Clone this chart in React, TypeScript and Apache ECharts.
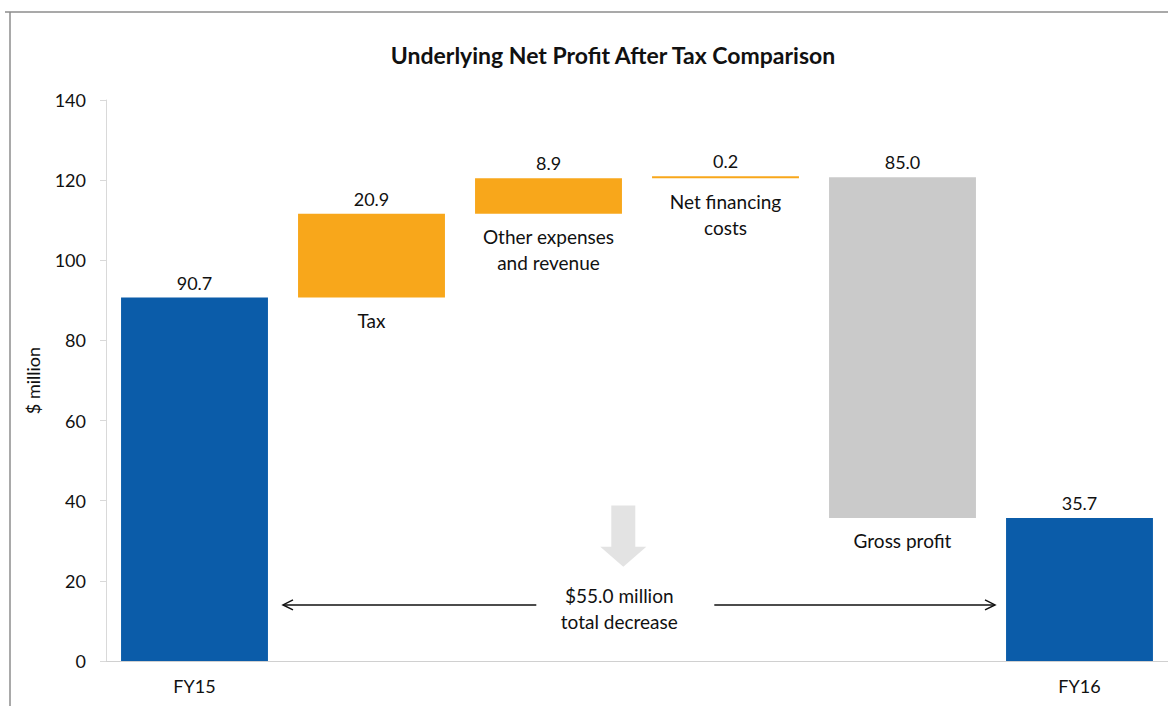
import React, { useEffect, useRef } from "react";
import * as echarts from "echarts";

const categories = ["FY15", "Tax", "Other expenses\nand revenue", "Net financing\ncosts", "Gross profit", "FY16"];
const values = [90.7, 20.9, 8.9, 0.2, 85.0, 35.7];
const steps = ["total", "up", "up", "up", "down", "total"];
const yTicks = [0, 20, 40, 60, 80, 100, 120, 140];
const totalDecreaseText = "$55.0 million\ntotal decrease";
const arrowLevel = 14;

const BLUE = "#0B5CA9";
const ORANGE = "#F8A71B";
const GREY = "#CACACA";
const FONT = "Lato, 'Open Sans', sans-serif";

function computeBases(): number[] {
  const bases: number[] = [];
  let running = 0;
  values.forEach((v, i) => {
    const s = steps[i];
    if (s === "total") {
      bases.push(0);
      running = v;
    } else if (s === "up") {
      bases.push(running);
      running += v;
    } else {
      running -= v;
      bases.push(running);
    }
  });
  return bases;
}

export default function App() {
  const ref = useRef<HTMLDivElement>(null);
  useEffect(() => {
    if (!ref.current) return;
    const chart = echarts.init(ref.current, null, { renderer: "svg" });
    const bases = computeBases();
    const colorFor = (i: number) =>
      steps[i] === "total" ? BLUE : steps[i] === "down" ? GREY : ORANGE;

    chart.setOption({
      animation: false,
      backgroundColor: "#ffffff",
      grid: { left: 106, right: 0, top: 100, bottom: 45, containLabel: false },
      xAxis: {
        type: "category",
        data: categories,
        axisLine: { show: true, lineStyle: { color: "#d0d0d0", width: 1 } },
        axisTick: { show: false },
        axisLabel: {
          color: "#111",
          fontFamily: FONT,
          fontSize: 18,
          margin: 16,
          formatter: (v: string, i: number) => (steps[i] === "total" ? v : ""),
        },
      },
      yAxis: {
        type: "value",
        min: yTicks[0],
        max: yTicks[yTicks.length - 1],
        interval: yTicks[1] - yTicks[0],
        name: "$ million",
        nameLocation: "middle",
        nameRotate: 90,
        nameGap: 64,
        nameTextStyle: { color: "#111", fontFamily: FONT, fontSize: 18 },
        splitLine: { show: false },
        axisLine: { show: true, lineStyle: { color: "#d9d9d9" } },
        axisTick: { show: true, length: 6, lineStyle: { color: "#d9d9d9" } },
        axisLabel: { color: "#111", fontFamily: FONT, fontSize: 18, margin: 20 },
      },
      series: [
        {
          type: "bar",
          stack: "wf",
          barCategoryGap: "17%",
          data: bases,
          itemStyle: { color: "transparent" },
          emphasis: { disabled: true },
          label: {
            show: true,
            position: "insideTop",
            distance: 10,
            color: "#111",
            fontFamily: FONT,
            fontSize: 19,
            lineHeight: 26,
            formatter: (p: any) => (steps[p.dataIndex] === "total" ? "" : categories[p.dataIndex]),
          },
        },
        {
          type: "bar",
          stack: "wf",
          barCategoryGap: "17%",
          barMinHeight: 2,
          data: values.map((v, i) => ({ value: v, itemStyle: { color: colorFor(i) } })),
          label: {
            show: true,
            position: "top",
            distance: 6,
            color: "#111",
            fontFamily: FONT,
            fontSize: 18,
            formatter: (p: any) => Number(p.value).toFixed(1),
          },
        },
      ],
    });

    const px = (i: number, v: number) => chart.convertToPixel({ gridIndex: 0 }, [i, v]) as number[];
    const band = px(1, 0)[0] - px(0, 0)[0];
    const y = px(0, arrowLevel)[1];
    const leftTip = px(0, 0)[0] + band / 2;
    const rightTip = px(5, 0)[0] - band / 2 + 4;
    const textX = px(2, 0)[0] + band * 0.4;
    const leftEnd = textX - 83;
    const rightStart = textX + 95;
    const arrowTop = px(0, 38.8)[1];
    const arrowMid = px(0, 28.5)[1];
    const arrowBot = px(0, 23.5)[1];
    const ax = textX + 4;

    const stroke = { stroke: "#111", lineWidth: 1.5 };
    chart.setOption({
      graphic: [
        { type: "line", shape: { x1: 5, y1: 12, x2: 1168, y2: 12 }, style: { stroke: "#8c8c8c", lineWidth: 1.5 } },
        { type: "line", shape: { x1: 10, y1: 12, x2: 10, y2: 706 }, style: { stroke: "#8c8c8c", lineWidth: 1.5 } },
        {
          type: "text",
          x: 613,
          y: 55,
          style: {
            text: "Underlying Net Profit After Tax Comparison",
            fill: "#111",
            font: `bold 23px ${FONT}`,
            textAlign: "center",
            textVerticalAlign: "middle",
          },
        },
        {
          type: "polygon",
          shape: {
            points: [
              [ax - 12, arrowTop], [ax + 12, arrowTop], [ax + 12, arrowMid],
              [ax + 23, arrowMid], [ax, arrowBot], [ax - 23, arrowMid], [ax - 12, arrowMid],
            ],
          },
          style: { fill: "#e3e3e3" },
        },
        { type: "line", shape: { x1: leftTip, y1: y, x2: leftEnd, y2: y }, style: stroke },
        { type: "polyline", shape: { points: [[leftTip + 10, y - 5], [leftTip, y], [leftTip + 10, y + 5]] }, style: { ...stroke, fill: "none" } },
        { type: "line", shape: { x1: rightStart, y1: y, x2: rightTip, y2: y }, style: stroke },
        { type: "polyline", shape: { points: [[rightTip - 10, y - 5], [rightTip, y], [rightTip - 10, y + 5]] }, style: { ...stroke, fill: "none" } },
        {
          type: "text",
          x: textX,
          y: y + 4,
          style: {
            text: totalDecreaseText,
            fill: "#111",
            font: `19px ${FONT}`,
            lineHeight: 26,
            textAlign: "center",
            textVerticalAlign: "middle",
          },
        },
      ],
    });

    return () => chart.dispose();
  }, []);
  return <div ref={ref} style={{ position: "absolute", left: 0, top: 0, width: 1168, height: 706 }} />;
}
